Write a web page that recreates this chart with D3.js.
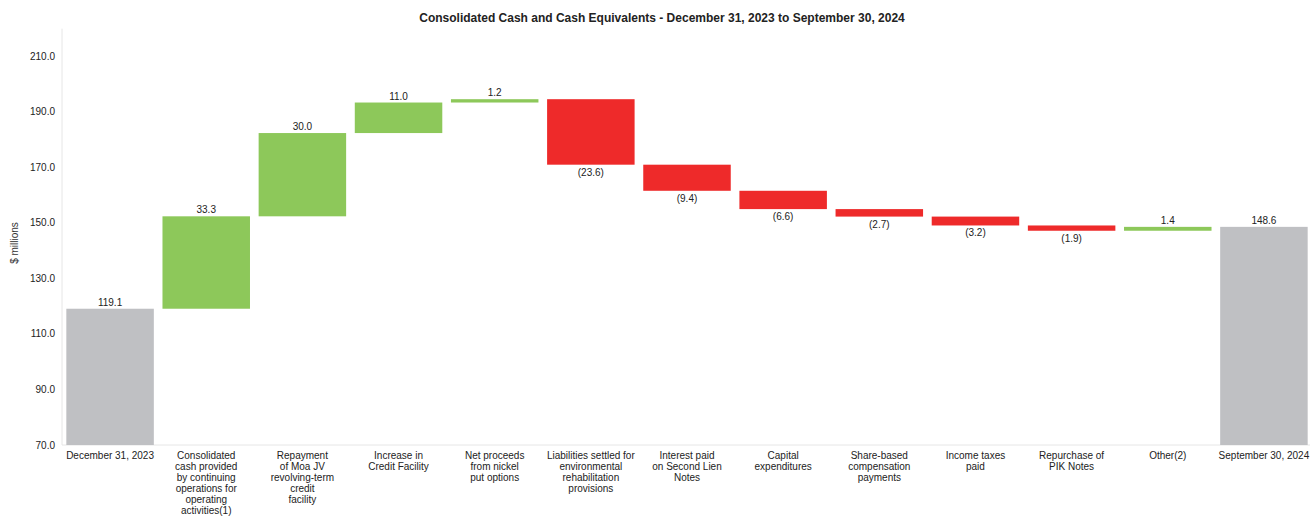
<!DOCTYPE html>
<html>
<head>
<meta charset="utf-8">
<script src="https://cdn.jsdelivr.net/npm/d3@7/dist/d3.min.js"></script>
<style>
  html, body { margin: 0; padding: 0; background: #fff; }
  svg { display: block; font-family: "Liberation Sans", Arial, sans-serif; }
</style>
</head>
<body>
<svg id="chart" width="1310" height="516"></svg>
<script>
// Category labels (line breaks as shown under each bar)
const categories = [
  ["December 31, 2023"],
  ["Consolidated", "cash provided", "by continuing", "operations for", "operating", "activities(1)"],
  ["Repayment", "of Moa JV", "revolving-term", "credit", "facility"],
  ["Increase in", "Credit Facility"],
  ["Net proceeds", "from nickel", "put options"],
  ["Liabilities settled for", "environmental", "rehabilitation", "provisions"],
  ["Interest paid", "on Second Lien", "Notes"],
  ["Capital", "expenditures"],
  ["Share-based", "compensation", "payments"],
  ["Income taxes", "paid"],
  ["Repurchase of", "PIK Notes"],
  ["Other(2)"],
  ["September 30, 2024"]
];
// Opening balance, changes, closing balance ($ millions)
const openingBalance = 119.1;
const changes = [33.3, 30.0, 11.0, 1.2, -23.6, -9.4, -6.6, -2.7, -3.2, -1.9, 1.4];
const closingBalance = 148.6;
const yTicks = [70, 90, 110, 130, 150, 170, 190, 210];

const colors = { total: "#bfc0c3", up: "#8dc85a", down: "#ee2a2a" };

// Build waterfall segments
const bars = [];
bars.push({ i: 0, y0: 0, y1: openingBalance, value: openingBalance, type: "total" });
let running = openingBalance;
changes.forEach((c, k) => {
  const start = running;
  running = +(running + c).toFixed(1);
  bars.push({ i: k + 1, y0: start, y1: running, value: c, type: c >= 0 ? "up" : "down" });
});
bars.push({ i: categories.length - 1, y0: 0, y1: closingBalance, value: closingBalance, type: "total" });

const svg = d3.select("#chart");
const x = d3.scaleBand().domain(d3.range(categories.length)).range([62, 1312]).paddingInner(0.09).paddingOuter(0.045);
const y = d3.scaleLinear().domain([70, 220]).range([445, 28.7]);

// Axis lines
svg.append("line").attr("x1", 62).attr("x2", 62).attr("y1", y(220)).attr("y2", y(70))
  .attr("stroke", "#e6e6e6").attr("stroke-width", 1);
svg.append("line").attr("x1", 62).attr("x2", 1310).attr("y1", y(70)).attr("y2", y(70))
  .attr("stroke", "#e6e6e6").attr("stroke-width", 1);

// Y tick labels
svg.append("g").selectAll("text").data(yTicks).join("text")
  .attr("x", 55).attr("y", d => y(d)).attr("dy", "0.35em")
  .attr("text-anchor", "end").attr("font-size", 10).attr("fill", "#222")
  .text(d => d3.format(".1f")(d));

// Y axis title
svg.append("text").attr("transform", "translate(18,243) rotate(-90)")
  .attr("text-anchor", "middle").attr("font-size", 10).attr("fill", "#333")
  .text("$ millions");

// Title
svg.append("text").attr("x", 662).attr("y", 22).attr("text-anchor", "middle")
  .attr("font-size", 12).attr("font-weight", "bold").attr("fill", "#222")
  .text("Consolidated Cash and Cash Equivalents - December 31, 2023 to September 30, 2024");

// Bars
const clampLow = v => Math.max(v, 70);
svg.append("g").selectAll("rect").data(bars).join("rect")
  .attr("x", d => x(d.i))
  .attr("width", x.bandwidth())
  .attr("y", d => y(Math.max(d.y0, d.y1)))
  .attr("height", d => Math.max(1, y(clampLow(Math.min(d.y0, d.y1))) - y(Math.max(d.y0, d.y1))))
  .attr("fill", d => colors[d.type]);

// Value labels
const fmt = d3.format(".1f");
svg.append("g").selectAll("text").data(bars).join("text")
  .attr("x", d => x(d.i) + x.bandwidth() / 2)
  .attr("y", d => d.type === "down" ? y(Math.min(d.y0, d.y1)) + 11 : y(Math.max(d.y0, d.y1)) - 3)
  .attr("text-anchor", "middle").attr("font-size", 10).attr("fill", "#222")
  .text(d => d.type === "down" ? `(${fmt(-d.value)})` : fmt(d.value));

// Category labels
const cat = svg.append("g").selectAll("text").data(categories).join("text")
  .attr("x", (d, i) => x(i) + x.bandwidth() / 2)
  .attr("y", 459)
  .attr("text-anchor", "middle").attr("font-size", 10).attr("fill", "#222");
cat.selectAll("tspan").data(d => d).join("tspan")
  .attr("x", function () { return this.parentNode.getAttribute("x"); })
  .attr("dy", (d, j) => j === 0 ? 0 : 10.9)
  .text(d => d);
</script>
</body>
</html>
